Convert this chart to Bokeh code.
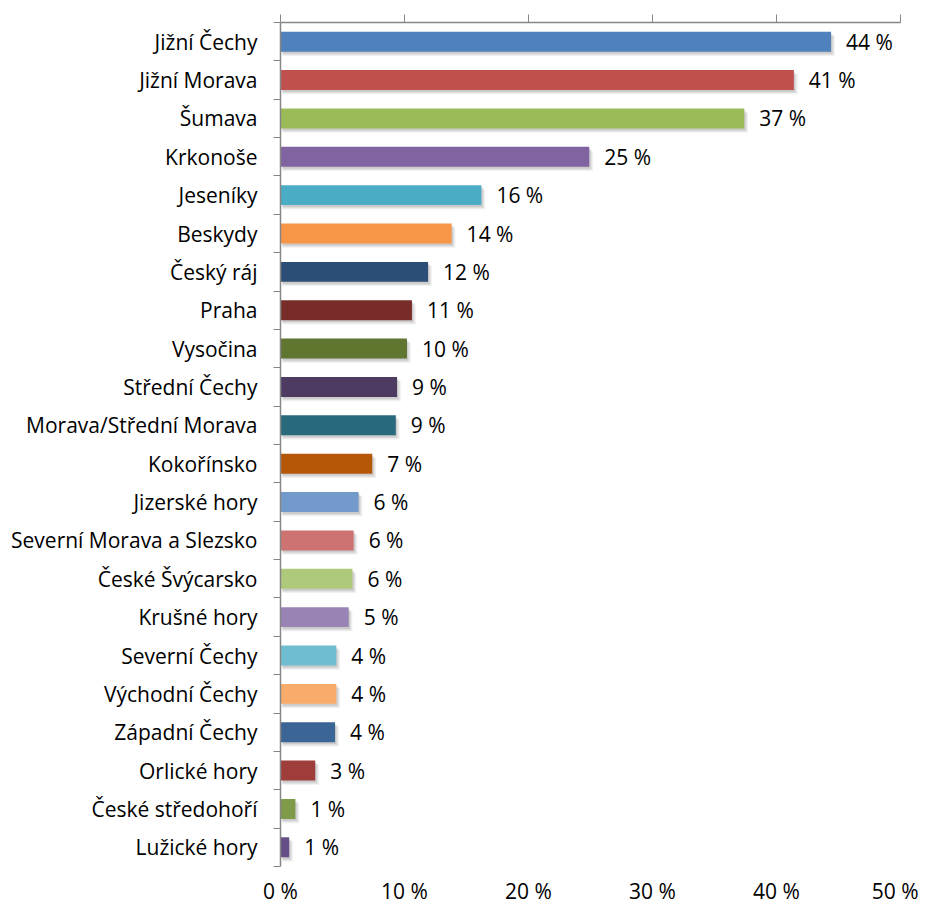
from bokeh.plotting import figure
from bokeh.models import ColumnDataSource, LinearAxis, FixedTicker, Range1d, CustomJSTickFormatter, Dodge
from bokeh.core.properties import value
from bokeh.embed import file_html
from bokeh.resources import INLINE

categories = ["Jižní Čechy", "Jižní Morava", "Šumava", "Krkonoše", "Jeseníky", "Beskydy",
              "Český ráj", "Praha", "Vysočina", "Střední Čechy", "Morava/Střední Morava",
              "Kokořínsko", "Jizerské hory", "Severní Morava a Slezsko", "České Švýcarsko",
              "Krušné hory", "Severní Čechy", "Východní Čechy", "Západní Čechy",
              "Orlické hory", "České středohoří", "Lužické hory"]
values = [44.4, 41.4, 37.4, 24.9, 16.2, 13.8, 11.9, 10.6, 10.2, 9.4, 9.3, 7.4, 6.3, 5.9,
          5.8, 5.5, 4.5, 4.5, 4.4, 2.8, 1.2, 0.7]
value_labels = ["44 %", "41 %", "37 %", "25 %", "16 %", "14 %", "12 %", "11 %", "10 %",
                "9 %", "9 %", "7 %", "6 %", "6 %", "6 %", "5 %", "4 %", "4 %", "4 %",
                "3 %", "1 %", "1 %"]
colors = ["#4F81BD", "#C0504D", "#9BBB59", "#8064A2", "#4BACC6", "#F79646",
          "#2C4D75", "#772C2A", "#5F7530", "#4D3B62", "#276A7C", "#B65708",
          "#729ACA", "#CD7371", "#AFC97A", "#9983B5", "#6FBDD1", "#F9AB6B",
          "#3A6595", "#9E3D3A", "#7F9A48", "#664F86"]
x_ticks = [0, 10, 20, 30, 40, 50]

n = len(categories)
ypos = [n - 1 - i for i in range(n)]
FONT = "Open Sans"
FS = "21px"

src = ColumnDataSource(dict(y=ypos, v=values, lab=value_labels, c=colors, cat=categories))

p = figure(width=918, height=907, output_backend="svg", toolbar_location=None,
           x_range=Range1d(0, 50), y_range=Range1d(-0.5, n - 0.5),
           x_axis_location=None, y_axis_location=None,
           min_border_left=280, min_border_right=18, min_border_top=22, min_border_bottom=41)
p.outline_line_color = None
p.xgrid.visible = False
p.ygrid.visible = False
p.background_fill_color = "white"

# soft shadow layers
for dx, dy, a in [(0.3, -0.11, 0.08), (0.2, -0.08, 0.10), (0.1, -0.05, 0.12)]:
    p.hbar(y=dict(field="y", transform=Dodge(value=dy)),
           right=dict(field="v", transform=Dodge(value=dx)), left=0.15,
           height=0.52, source=src, fill_color="#444444", fill_alpha=a, line_color=None)

p.hbar(y="y", right="v", left=0, height=0.52, source=src, fill_color="c", line_color=None)

p.text(x="v", y="y", text="lab", source=src, x_offset=15, text_align="left",
       text_baseline="middle", text_font=value(FONT), text_font_size=FS, text_color="#000000")

# left axis: category labels at centres, ticks at boundaries
left = LinearAxis(ticker=FixedTicker(ticks=ypos, minor_ticks=[k - 0.5 for k in range(n + 1)]))
overrides = {}
for y, c in zip(ypos, categories):
    overrides[y] = c
left.major_label_overrides = overrides
left.major_tick_line_color = None
left.minor_tick_out = 7
left.minor_tick_in = 0
left.minor_tick_line_color = "#868686"
left.axis_line_color = "#868686"
left.axis_line_width = 1.5
left.major_label_text_font = FONT
left.major_label_text_font_size = FS
left.major_label_text_color = "#000000"
left.major_label_standoff = 16
p.add_layout(left, "left")

# top axis: tick marks only
top = LinearAxis(ticker=FixedTicker(ticks=x_ticks))
top.major_label_text_font_size = "0px"
top.major_label_text_alpha = 0
top.major_label_standoff = 0
top.major_tick_out = 8
top.major_tick_in = 0
top.major_tick_line_color = "#868686"
top.axis_line_color = "#868686"
top.axis_line_width = 1.5
top.minor_tick_line_color = None
p.add_layout(top, "above")

# bottom axis: labels only
bottom = LinearAxis(ticker=FixedTicker(ticks=x_ticks))
bottom.formatter = CustomJSTickFormatter(code="return tick + ' %';")
bottom.axis_line_color = None
bottom.major_tick_line_color = None
bottom.minor_tick_line_color = None
bottom.major_label_standoff = 4
bottom.major_label_text_font = FONT
bottom.major_label_text_font_size = FS
bottom.major_label_text_color = "#000000"
p.add_layout(bottom, "below")

open("out.html", "w").write(file_html(p, INLINE))
